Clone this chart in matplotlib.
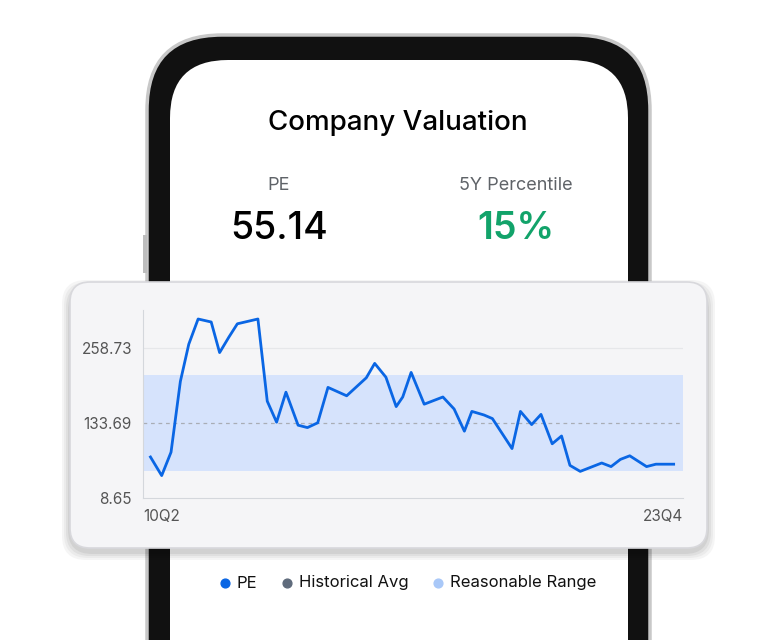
import matplotlib
matplotlib.use("Agg")
import matplotlib.pyplot as plt
from matplotlib.patches import FancyBboxPatch, Rectangle
import numpy as np

plt.rcParams["font.family"] = ["Inter", "DejaVu Sans"]

# data (quarter index from 10Q2, PE value)
quarter_idx = [0, 1.2, 2.2, 3.2, 4.1, 5.1, 6.5, 7.4, 8.4, 9.3, 11.5, 12.5, 13.5,
               14.5, 15.8, 16.8, 17.9, 19.0, 21.0, 23.1, 24.0, 25.2, 26.3, 27.0,
               27.9, 29.3, 31.3, 32.5, 33.6, 34.4, 35.7, 36.6, 38.7, 39.6, 40.8,
               41.8, 43.0, 44.0, 44.9, 46.0, 48.3, 49.3, 50.3, 51.3, 53.1, 54.1, 56.0]
pe_values = [77, 46, 85, 203, 265, 307, 302, 251, 277, 299, 307, 170, 135,
             185, 130, 126, 134, 193, 179, 209, 233, 210, 161, 177,
             218, 165, 177, 157, 120, 153, 147, 141, 91, 153, 131,
             148, 99, 112, 63, 53, 67, 61, 73, 79, 61, 65, 65]
hist_avg = 133.69
range_low, range_high = 53.7, 213.8
y_ticks = [8.65, 133.69, 258.73]
x_labels = ["10Q2", "23Q4"]
legend_items = ["PE", "Historical Avg", "Reasonable Range"]
legend_colors = ["#0a66e4", "#5f6b7c", "#a9c8f8"]

W, H = 769, 640
fig = plt.figure(figsize=(W / 100, H / 100), dpi=100)
bg = fig.add_axes([0, 0, 1, 1])
bg.set_xlim(0, W)
bg.set_ylim(H, 0)
bg.axis("off")

# phone body
bg.add_patch(FancyBboxPatch((147, 35), 503, 700, boxstyle="round,pad=0,rounding_size=75",
                            fc="#111111", ec="#c8c8c8", lw=2.5))
bg.add_patch(FancyBboxPatch((170, 60), 458, 680, boxstyle="round,pad=0,rounding_size=58",
                            fc="white", ec="none"))
bg.add_patch(Rectangle((143, 235), 4, 38, fc="#bdbdbd", ec="none"))

bg.text(398, 123, "Company Valuation", ha="center", va="center", fontsize=20,
        fontweight="medium", color="black")
bg.text(279, 185, "PE", ha="center", va="center", fontsize=13, color="#5f6368")
bg.text(279, 229, "55.14", ha="center", va="center", fontsize=27, color="black",
        fontweight="medium")
bg.text(516, 185, "5Y Percentile", ha="center", va="center", fontsize=13, color="#5f6368")
bg.text(516, 229, "15%", ha="center", va="center", fontsize=27, color="#12a36a",
        fontweight="semibold")

# floating card with shadow
for i, a in enumerate([0.04, 0.04, 0.05, 0.06]):
    pad = 8 - i * 2
    bg.add_patch(FancyBboxPatch((70 - pad, 284 - pad + 4), 637 + 2 * pad, 264 + 2 * pad,
                                boxstyle="round,pad=0,rounding_size=24", fc="black",
                                ec="none", alpha=a))
bg.add_patch(FancyBboxPatch((70, 282), 637, 266, boxstyle="round,pad=0,rounding_size=20",
                            fc="#f5f5f7", ec="#d8d8dc", lw=1.2))

# legend
lx = [225, 287, 438]
for x, lab, c in zip(lx, legend_items, legend_colors):
    bg.scatter([x], [583], s=40, color=c, zorder=5)
    bg.text(x + 12, 583, lab, ha="left", va="center", fontsize=12, color="#111111")

# chart
ax = fig.add_axes([143 / W, 1 - 498 / H, (683 - 143) / W, (498 - 310) / H])
ax.set_facecolor("none")
ax.axhspan(range_low, range_high, color="#d6e3fc", lw=0)
ax.axhline(hist_avg, color="#a9adb5", lw=0.9, ls=(0, (3, 3)))
ax.axhline(258.73, color="#e6e7ea", lw=0.9)
ax.plot(quarter_idx, pe_values, color="#0a66e4", lw=2)
ax.set_xlim(-0.8, 57)
ax.set_ylim(8.65, 322)
ax.set_yticks(y_ticks)
ax.set_yticklabels([f"{v:.2f}" for v in y_ticks])
ax.set_xticks([-0.8, 57])
ax.set_xticklabels(x_labels)
ax.get_xticklabels()[0].set_ha("left")
ax.get_xticklabels()[1].set_ha("right")
ax.tick_params(length=0, labelsize=11, labelcolor="#555555", pad=8)
for s in ["top", "right"]:
    ax.spines[s].set_visible(False)
for s in ["left", "bottom"]:
    ax.spines[s].set_color("#d4d7dc")

fig.savefig("out.png", dpi=100)
